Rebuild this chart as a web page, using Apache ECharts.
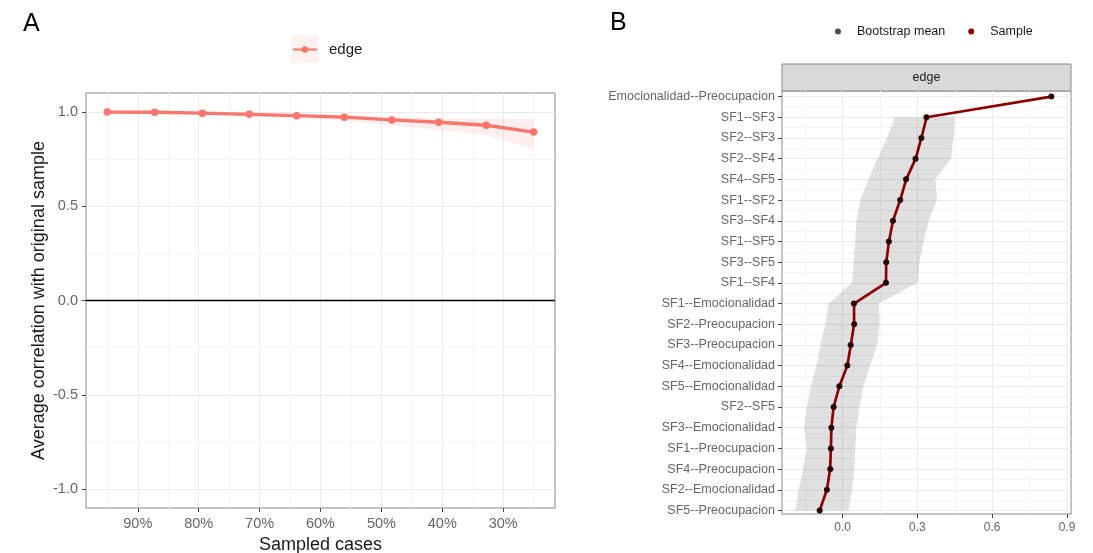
<!DOCTYPE html>
<html><head><meta charset="utf-8">
<script src="https://cdn.jsdelivr.net/npm/echarts@6/dist/echarts.min.js"></script>
<style>html,body{margin:0;padding:0;background:#fff}#c{width:1093px;height:553px}</style>
</head><body><div id="c"></div><script>
// ---------- Panel A data ----------
const sampledPct = [95.0, 87.2, 79.4, 71.7, 63.9, 56.1, 48.3, 40.6, 32.8, 25.0];
const corrMean  = [0.999, 0.998, 0.993, 0.987, 0.980, 0.972, 0.957, 0.945, 0.929, 0.893];
const corrLower = [0.996, 0.992, 0.986, 0.977, 0.967, 0.954, 0.928, 0.905, 0.878, 0.803];
const corrUpper = [1.000, 1.000, 0.998, 0.994, 0.989, 0.984, 0.973, 0.967, 0.963, 0.962];
const xTicksA = [30, 40, 50, 60, 70, 80, 90];
const xMinorA = [25, 35, 45, 55, 65, 75, 85, 95];
const yTicksA = [-1, -0.5, 0, 0.5, 1];
const yMinorA = [-0.75, -0.25, 0.25, 0.75];
const zeroLine = 0;

// ---------- Panel B data ----------
const edges = ['Emocionalidad--Preocupacion','SF1--SF3','SF2--SF3','SF2--SF4','SF4--SF5','SF1--SF2','SF3--SF4','SF1--SF5','SF3--SF5','SF1--SF4','SF1--Emocionalidad','SF2--Preocupacion','SF3--Preocupacion','SF4--Emocionalidad','SF5--Emocionalidad','SF2--SF5','SF3--Emocionalidad','SF1--Preocupacion','SF4--Preocupacion','SF2--Emocionalidad','SF5--Preocupacion'];
const sampleVal = [0.837, 0.337, 0.316, 0.293, 0.255, 0.231, 0.202, 0.186, 0.175, 0.174, 0.046, 0.046, 0.033, 0.019, -0.013, -0.036, -0.045, -0.047, -0.050, -0.063, -0.092];
const bootMean  = [0.837, 0.336, 0.316, 0.292, 0.254, 0.231, 0.202, 0.185, 0.175, 0.174, 0.045, 0.047, 0.032, 0.019, -0.013, -0.036, -0.045, -0.047, -0.049, -0.063, -0.092];
const bootLower = [null, 0.211, 0.178, 0.140, 0.104, 0.071, 0.055, 0.051, 0.044, 0.038, -0.056, -0.069, -0.089, -0.105, -0.127, -0.143, -0.154, -0.143, -0.159, -0.176, -0.190];
const bootUpper = [null, 0.452, 0.445, 0.435, 0.372, 0.379, 0.345, 0.325, 0.309, 0.301, 0.145, 0.149, 0.138, 0.111, 0.084, 0.068, 0.055, 0.051, 0.047, 0.038, 0.024];
const xTicksB = [0, 0.3, 0.6, 0.9];
const xMinorB = [-0.15, 0.15, 0.45, 0.75];
const rowTicks = edges.map((e, i) => i);
const rowMinor = edges.slice(1).map((e, i) => i + 0.5);

const FONT = '"Liberation Sans", Arial, sans-serif';
const TICK = '#666';
const majorLine = {show: true, lineStyle: {color: '#ebebeb', width: 1}};
const minorLine = {show: true, lineStyle: {color: '#f4f4f4', width: 1}};

function majorAxis(o) {
  return Object.assign({
    type: 'value', axisLine: {show: false, onZero: false},
    axisTick: {show: true, length: 4, lineStyle: {color: '#444'}, customValues: o.ticks},
    axisLabel: {customValues: o.ticks, color: TICK, fontFamily: FONT, fontSize: o.fs, margin: o.margin, formatter: o.fmt},
    splitLine: majorLine
  }, o.extra);
}
function minorAxis(o) {
  return Object.assign({
    type: 'value', axisLine: {show: false, onZero: false},
    axisTick: {show: false, customValues: o.ticks},
    axisLabel: {show: false, customValues: o.ticks},
    splitLine: minorLine
  }, o.extra);
}

const chart = echarts.init(document.getElementById('c'), null, {renderer: 'canvas'});
chart.setOption({
  animation: false,
  backgroundColor: '#fff',
  textStyle: {fontFamily: FONT},
  title: [
    {text: 'A', left: 23, top: 12, padding: 0, textStyle: {fontSize: 25, fontWeight: 'normal', color: '#000', fontFamily: FONT}},
    {text: 'B', left: 610, top: 11, padding: 0, textStyle: {fontSize: 25, fontWeight: 'normal', color: '#000', fontFamily: FONT}}
  ],
  legend: [
    {data: ['edge'], left: 292, top: 42, padding: 0, itemWidth: 24, itemHeight: 8,
     textStyle: {fontSize: 15, color: '#1a1a1a', fontFamily: FONT, padding: [0, 0, 0, 7]}},
    {data: [{name: 'Bootstrap mean', icon: 'circle'}, {name: 'Sample', icon: 'circle'}],
     left: 835, top: 25, padding: 0, itemWidth: 28, itemHeight: 6, itemGap: 23,
     textStyle: {fontSize: 12.5, color: '#1a1a1a', fontFamily: FONT}}
  ],
  graphic: [
    {type: 'rect', left: 291, top: 35, shape: {width: 27, height: 28}, style: {fill: 'rgba(248,118,109,0.10)'}, z: 0},
    {type: 'rect', shape: {x: 782, y: 64, width: 289, height: 27}, style: {fill: '#d9d9d9', stroke: '#888', lineWidth: 1}, z: 0},
    {type: 'text', x: 926.5, y: 77.5, style: {text: 'edge', fontSize: 12.5, fill: '#1a1a1a', fontFamily: FONT, align: 'center', verticalAlign: 'middle'}, z: 1}
  ],
  grid: [
    {left: 86, top: 93, width: 469, height: 415, show: true, borderColor: '#888', borderWidth: 1, backgroundColor: 'transparent', containLabel: false, outerBoundsMode: 'none'},
    {left: 782, top: 91, width: 289, height: 423, show: true, borderColor: '#888', borderWidth: 1, backgroundColor: 'transparent', containLabel: false, outerBoundsMode: 'none'}
  ],
  xAxis: [
    majorAxis({ticks: xTicksA, fs: 14.5, margin: 8, fmt: v => v + '%', extra: {
      gridIndex: 0, inverse: true, min: 21.5, max: 98.5,
      name: 'Sampled cases', nameLocation: 'middle', nameGap: 26,
      nameTextStyle: {fontSize: 18, color: '#1a1a1a', fontFamily: FONT}}}),
    minorAxis({ticks: xMinorA, extra: {gridIndex: 0, inverse: true, min: 21.5, max: 98.5}}),
    majorAxis({ticks: xTicksB, fs: 12, margin: 8, fmt: v => v.toFixed(1), extra: {gridIndex: 1, min: -0.243, max: 0.916}}),
    minorAxis({ticks: xMinorB, extra: {gridIndex: 1, min: -0.243, max: 0.916}})
  ],
  yAxis: [
    majorAxis({ticks: yTicksA, fs: 14.5, margin: 8, fmt: v => v.toFixed(1), extra: {
      gridIndex: 0, min: -1.1, max: 1.1,
      name: 'Average correlation with original sample', nameLocation: 'middle', nameGap: 38, nameRotate: 90,
      nameTextStyle: {fontSize: 18, color: '#1a1a1a', fontFamily: FONT}}}),
    minorAxis({ticks: yMinorA, extra: {gridIndex: 0, min: -1.1, max: 1.1}}),
    majorAxis({ticks: rowTicks, fs: 12.5, margin: 7, fmt: v => edges[Math.round(v)], extra: {gridIndex: 1, inverse: true, min: -0.27, max: 20.17}}),
    minorAxis({ticks: rowMinor, extra: {gridIndex: 1, inverse: true, min: -0.27, max: 20.17}})
  ],
  series: [
    {
      type: 'custom', name: 'bandA', xAxisIndex: 0, yAxisIndex: 0, silent: true, z: 1,
      data: [[sampledPct[0], corrMean[0]]],
      renderItem: function (params, api) {
        if (params.dataIndex !== 0) return;
        const up = [], lo = [];
        sampledPct.forEach((x, i) => { up.push(api.coord([x, corrUpper[i]])); lo.push(api.coord([x, corrLower[i]])); });
        return {type: 'polygon', shape: {points: up.concat(lo.reverse())}, style: {fill: 'rgba(248,118,109,0.12)'}};
      }
    },
    {
      type: 'line', name: 'edge', xAxisIndex: 0, yAxisIndex: 0, z: 3,
      data: sampledPct.map((x, i) => [x, corrMean[i]]),
      color: '#F8766D', lineStyle: {width: 3.3, color: '#F8766D'},
      symbol: 'circle', symbolSize: 7.5, itemStyle: {color: '#F8766D'},
      emphasis: {disabled: true},
      markLine: {silent: true, symbol: 'none', label: {show: false}, animation: false,
        lineStyle: {color: '#000', width: 1.3, type: 'solid'}, data: [{yAxis: zeroLine}]}
    },
    {
      type: 'custom', name: 'bandB', xAxisIndex: 2, yAxisIndex: 2, silent: true, z: 1,
      data: [[sampleVal[0], 0]],
      renderItem: function (params, api) {
        if (params.dataIndex !== 0) return;
        const left = [], right = [];
        edges.forEach((e, i) => {
          if (bootLower[i] == null || bootUpper[i] == null) return;
          left.push(api.coord([bootLower[i], i]));
          right.push(api.coord([bootUpper[i], i]));
        });
        return {type: 'polygon', shape: {points: left.concat(right.reverse())}, style: {fill: 'rgba(0,0,0,0.12)'}};
      }
    },
    {
      type: 'line', name: 'Sample', xAxisIndex: 2, yAxisIndex: 2, z: 3,
      data: sampleVal.map((v, i) => [v, i]),
      color: '#8B0000', lineStyle: {width: 2.7, color: '#8B0000'},
      symbol: 'circle', symbolSize: 5.5, itemStyle: {color: '#8B0000'},
      emphasis: {disabled: true}
    },
    {
      type: 'scatter', name: 'Bootstrap mean', xAxisIndex: 2, yAxisIndex: 2, z: 4,
      data: bootMean.map((v, i) => [v, i]),
      color: '#000', symbol: 'circle', symbolSize: 6, itemStyle: {color: '#000', opacity: 0.7},
      emphasis: {disabled: true}
    }
  ]
});
</script></body></html>
